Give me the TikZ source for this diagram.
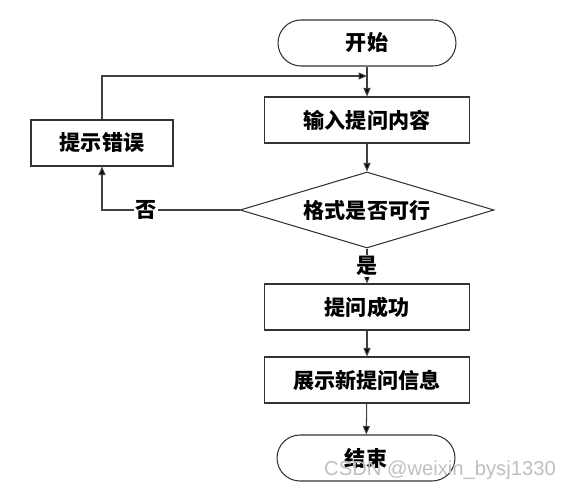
\documentclass[tikz,border=0pt]{standalone}
\usepackage{fontspec}
\newfontfamily\cjk{Noto Sans CJK SC}
\newfontfamily\wmfont{Liberation Sans}
\usepackage{tikz}
\usetikzlibrary{arrows.meta}
\usetikzlibrary{shapes.geometric}
\tikzstyle{line}=[draw=black!75, line width=0.6pt]
\tikzstyle{arr}=[line, -{Triangle[length=0.17cm, width=0.14cm, fill=black]}]
\tikzstyle{proc}=[rectangle, draw=black!80, line width=0.6pt, minimum width=4.1cm, minimum height=0.92cm, inner sep=0pt, font=\cjk\bfseries\fontsize{12}{14}\selectfont]
\tikzstyle{term}=[proc, rounded corners=0.46cm, minimum width=3.56cm]
\tikzstyle{cond}=[diamond, draw=black!80, line width=0.6pt, aspect=3.34, minimum width=5.08cm, minimum height=1.52cm, inner sep=0pt, font=\cjk\bfseries\fontsize{12}{14}\selectfont]
\tikzstyle{lbl}=[fill=white, inner sep=1pt, font=\cjk\bfseries\fontsize{12}{14}\selectfont]

\begin{document}
\begin{tikzpicture}
        [x=0.02cm,y=-0.02cm]
            \useasboundingbox (0,0) rectangle (563,489);
            % main column
            \node [term] (start) at (367,43) {开始};
            \node [proc] (input) at (367,120) {输入提问内容};
            \node [cond] (check) at (367,210) {格式是否可行};
            \node [proc] (ok) at (367,307) {提问成功};
            \node [proc] (show) at (367,380) {展示新提问信息};
            \node [term] (stop) at (366,458) {结束};
            % side branch
            \node [proc, minimum width=2.84cm] (err) at (102,143) {提示错误};
            \coordinate (join) at (367,76);
            \draw [arr] (start) -- (input);
            \draw [arr] (input) -- (check);
            \draw [arr] (check) -- node [lbl] {是} (ok);
            \draw [arr] (ok) -- (show);
            \draw [arr] (show) -- (stop);
            \draw [arr] (check.west) -- node [lbl, pos=0.68] {否} (err.south |- check.west) -- (err.south);
            \draw [arr] (err.north) -- (err.north |- join) -- (join);
            \node [text=black!25, font=\wmfont\fontsize{11.5}{13}\selectfont] (mark) at (440,470) {CSDN @weixin\_bysj1330};
        \end{tikzpicture}
\end{document}
